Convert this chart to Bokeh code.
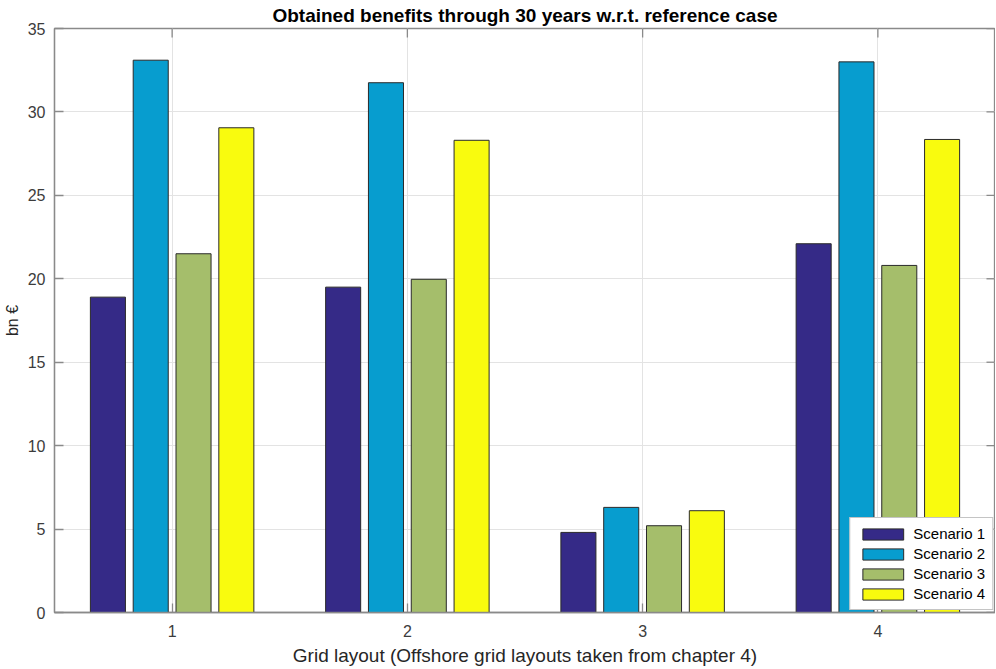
from bokeh.plotting import figure
from bokeh.models import ColumnDataSource, FixedTicker, Legend, LegendItem
from bokeh.embed import file_html
from bokeh.resources import INLINE

# ---- data ----
groups = [1, 2, 3, 4]
scenario_names = ["Scenario 1", "Scenario 2", "Scenario 3", "Scenario 4"]
scenario1 = [18.9, 19.5, 4.8, 22.1]
scenario2 = [33.1, 31.75, 6.3, 33.0]
scenario3 = [21.5, 19.97, 5.2, 20.8]
scenario4 = [29.05, 28.3, 6.1, 28.35]
colors = ["#352a87", "#079dcf", "#a5be6b", "#f9fb0e"]
y_ticks = [0, 5, 10, 15, 20, 25, 30, 35]

title_text = "Obtained benefits through 30 years w.r.t. reference case"
x_label = "Grid layout (Offshore grid layouts taken from chapter 4)"
y_label = "bn \u20ac"

# ---- style / layout ----
FONT = "Liberation Sans"
AXC = "#8a8a8a"
TXC = "#3c3c3c"
W, H = 995, 668
BL, BR, BT, BB = 47, 0, 28, 56
X0, X1, Y0, Y1 = 0.5, 4.5, 0, 35
TICK = 9

p = figure(width=W, height=H, x_range=(X0, X1), y_range=(Y0, Y1),
           output_backend="svg", toolbar_location=None,
           min_border_left=BL, min_border_right=BR, min_border_top=BT,
           min_border_bottom=BB)

p.title.text = title_text
p.title.align = "center"
p.title.text_font = FONT
p.title.text_font_size = "19px"
p.title.text_font_style = "bold"
p.title.text_color = "#000000"
p.title.standoff = 5
p.title.offset = 0

p.outline_line_color = AXC
p.outline_line_width = 1.3
p.background_fill_color = "white"

# grid
p.xgrid.ticker = FixedTicker(ticks=groups)
p.ygrid.ticker = FixedTicker(ticks=y_ticks)
for g in (p.xgrid, p.ygrid):
    g.grid_line_color = "#e3e3e3"
    g.grid_line_width = 1

# bars
series = [scenario1, scenario2, scenario3, scenario4]
bar_w = 0.149
step = 0.182
offsets = [(i - 1.5) * step for i in range(4)]
items = []
for i, (vals, col, name) in enumerate(zip(series, colors, scenario_names)):
    src = ColumnDataSource(dict(x=[g + offsets[i] for g in groups], top=vals))
    r = p.vbar(x="x", top="top", width=bar_w, source=src, fill_color=col,
               line_color="#2a2a2a", line_width=1)
    items.append(LegendItem(label=name, renderers=[r]))

# inner ticks on top and right edges (box style)
frame_w = 938
frame_h = 584
dx = TICK * (X1 - X0) / frame_w
dy = TICK * (Y1 - Y0) / frame_h
p.segment(x0=groups, x1=groups, y0=[Y1] * len(groups), y1=[Y1 - dy] * len(groups),
          line_color=AXC, line_width=1.3)
p.segment(x0=[X1] * len(y_ticks), x1=[X1 - dx] * len(y_ticks), y0=y_ticks, y1=y_ticks,
          line_color=AXC, line_width=1.3)

# axes
xa = p.xaxis[0]
ya = p.yaxis[0]
xa.ticker = FixedTicker(ticks=groups)
ya.ticker = FixedTicker(ticks=y_ticks)
for ax in (xa, ya):
    ax.axis_line_color = AXC
    ax.axis_line_width = 1.3
    ax.major_tick_line_color = AXC
    ax.major_tick_line_width = 1.3
    ax.major_tick_in = TICK
    ax.major_tick_out = 0
    ax.minor_tick_line_color = None
    ax.major_label_text_font = FONT
    ax.major_label_text_font_size = "16px"
    ax.major_label_text_color = TXC
    ax.axis_label_text_font = FONT
    ax.axis_label_text_font_style = "normal"
    ax.axis_label_text_color = "#262626"
xa.axis_label = x_label
ya.axis_label = y_label
xa.axis_label_text_font_size = "19px"
ya.axis_label_text_font_size = "16px"
xa.major_label_standoff = 12
xa.axis_label_standoff = 5
ya.major_label_standoff = 9
ya.axis_label_standoff = 4

legend = Legend(items=items, location="bottom_right")
legend.label_text_font = FONT
legend.label_text_font_size = "15px"
legend.label_text_line_height = 1.0
legend.label_text_color = "#000000"
legend.glyph_width = 51
legend.glyph_height = 14
legend.label_height = 14
legend.spacing = 3
legend.padding = 7
legend.margin = 2
legend.label_standoff = 5
legend.border_line_color = "#8a8a8a"
legend.border_line_width = 1
legend.background_fill_alpha = 1
p.add_layout(legend)

open("out.html", "w").write(file_html(p, INLINE))
